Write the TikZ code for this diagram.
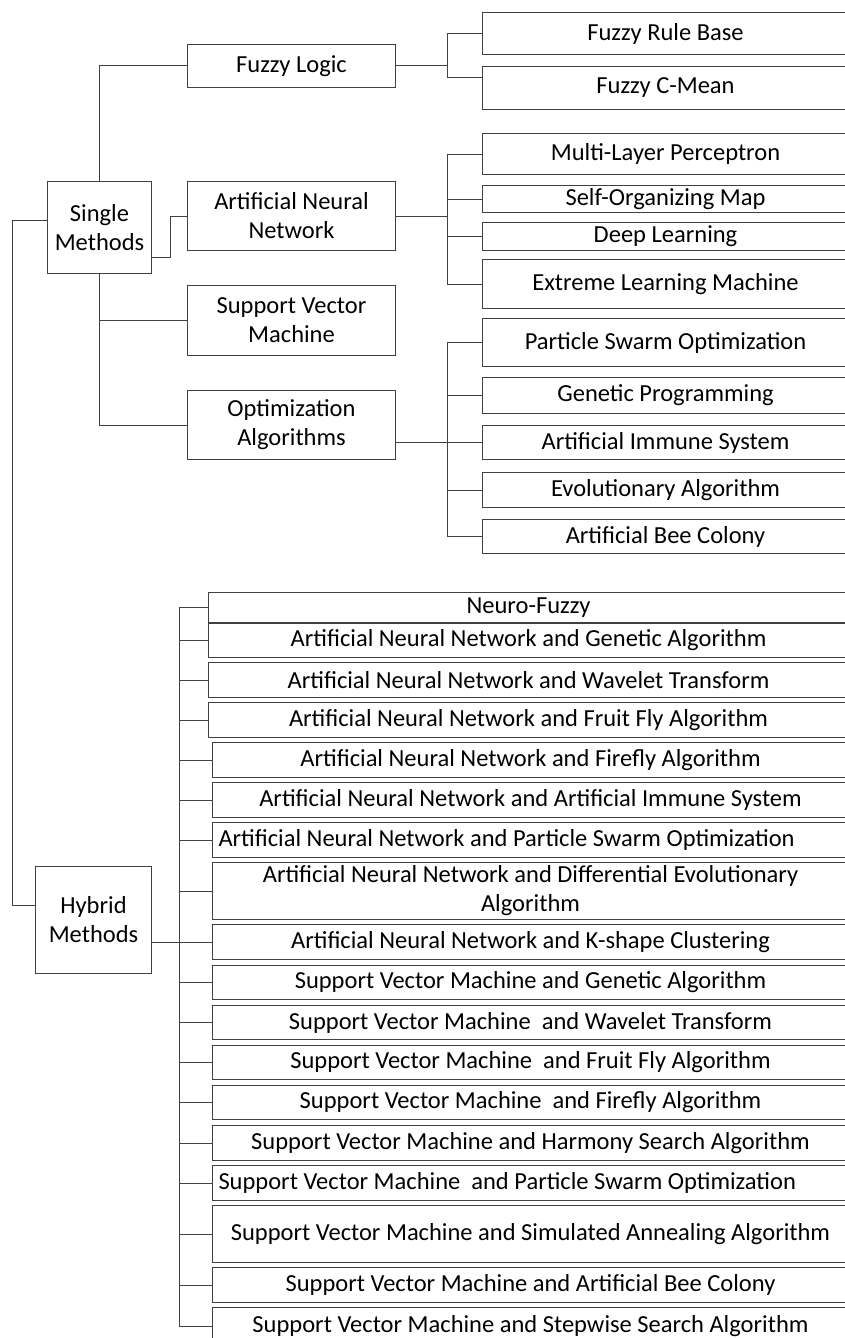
\documentclass[tikz,border=0pt]{standalone}
\usepackage{fontspec}
\setmainfont{Carlito}

\begin{document}
\begin{tikzpicture}[x=1pt, y=-1pt,
font=\fontsize{24.5}{29}\selectfont,
box/.style={draw=black!75, line width=1pt, anchor=north west, align=center,
  inner xsep=4pt, inner ysep=1pt, minimum width=208pt},
leaf/.style={box, minimum width=366pt},
hleaf/.style={box, minimum width=636pt},
link/.style={black!75, line width=1pt}]
    \useasboundingbox (0,0) rectangle (845,1338);
    \clip (0,0) rectangle (845,1338);

    % Roots
    \node[box, minimum width=104pt, minimum height=92pt] (sm) at (47,181) {Single\\Methods};
    \node[box, minimum width=116pt, minimum height=107pt] (hm) at (35,866) {Hybrid\\Methods};

    % Single methods
    \node[box, minimum height=43pt] (fl) at (187,44) {Fuzzy Logic};
    \node[box, minimum height=69pt] (ann) at (187,181) {Artificial Neural\\Network};
    \node[box, minimum height=70pt] (svm) at (187,285) {Support Vector\\Machine};
    \node[box, minimum height=69pt] (opt) at (187,390) {Optimization\\Algorithms};

    \node[leaf, minimum height=42pt] (frb) at (482,12) {Fuzzy Rule Base};
    \node[leaf, minimum height=43pt] (fcm) at (482,66) {Fuzzy C-Mean};
    \node[leaf, minimum height=41pt] (mlp) at (482,133) {Multi-Layer Perceptron};
    \node[leaf, minimum height=27pt] (som) at (482,185) {Self-Organizing Map};
    \node[leaf, minimum height=28pt] (dl) at (482,222) {Deep Learning};
    \node[leaf, minimum height=49pt] (elm) at (482,259) {Extreme Learning Machine};
    \node[leaf, minimum height=48pt] (pso) at (482,318) {Particle Swarm Optimization};
    \node[leaf, minimum height=36pt] (gp) at (482,377) {Genetic Programming};
    \node[leaf, minimum height=34pt] (ais) at (482,425) {Artificial Immune System};
    \node[leaf, minimum height=35pt] (ea) at (482,472) {Evolutionary Algorithm};
    \node[leaf, minimum height=34pt] (abc) at (482,519) {Artificial Bee Colony};

    % Hybrid methods
    \node[hleaf, minimum width=640pt, minimum height=30pt] (nf) at (208,592) {Neuro-Fuzzy};
    \node[hleaf, minimum width=640pt, minimum height=34pt] (annga) at (208,623) {Artificial Neural Network and Genetic Algorithm};
    \node[hleaf, minimum width=640pt, minimum height=35pt] (annwt) at (208,662) {Artificial Neural Network and Wavelet Transform};
    \node[hleaf, minimum width=640pt, minimum height=35pt] (annffa) at (208,702) {Artificial Neural Network and Fruit Fly Algorithm};
    \node[hleaf, minimum height=35pt] (annfa) at (212,742) {Artificial Neural Network and Firefly Algorithm};
    \node[hleaf, minimum height=35pt] (annais) at (212,782) {Artificial Neural Network and Artificial Immune System};
    \node[hleaf, minimum height=35pt, align=flush left, inner xsep=6pt, text width=624pt] (annpso) at (212,822) {Artificial Neural Network and Particle Swarm Optimization};
    \node[hleaf, minimum height=57pt] (annde) at (212,862) {Artificial Neural Network and Differential Evolutionary\\Algorithm};
    \node[hleaf, minimum height=35pt] (annksc) at (212,924) {Artificial Neural Network and K-shape Clustering};
    \node[hleaf, minimum height=34pt] (svmga) at (212,965) {Support Vector Machine and Genetic Algorithm};
    \node[hleaf, minimum height=34pt] (svmwt) at (212,1005) {Support Vector Machine\ \ and Wavelet Transform};
    \node[hleaf, minimum height=34pt] (svmffa) at (212,1045) {Support Vector Machine\ \ and Fruit Fly Algorithm};
    \node[hleaf, minimum height=34pt] (svmfa) at (212,1085) {Support Vector Machine\ \ and Firefly Algorithm};
    \node[hleaf, minimum height=35pt] (svmhsa) at (212,1125) {Support Vector Machine and Harmony Search Algorithm};
    \node[hleaf, minimum height=35pt, align=flush left, inner xsep=6pt, text width=624pt] (svmpso) at (212,1165) {Support Vector Machine\ \ and Particle Swarm Optimization};
    \node[hleaf, minimum height=57pt] (svmsaa) at (212,1205) {Support Vector Machine and Simulated Annealing Algorithm};
    \node[hleaf, minimum height=35pt] (svmabc) at (212,1267) {Support Vector Machine and Artificial Bee Colony};
    \node[hleaf, minimum height=38pt] (svmssa) at (212,1307) {Support Vector Machine and Stepwise Search Algorithm};

    % Links from the roots
    \draw[link] (sm.north) |- (fl.west);
    \draw[link] ([yshift=17pt]sm.south east) -- ++(18,0) |- (ann.west);
    \draw[link] (sm.south) |- (svm.west);
    \draw[link] (sm.south) |- (opt.west);
    \draw[link] ([yshift=7pt]sm.west) -- ++(-35,0) |- ([yshift=15pt]hm.west);

    % Brackets of the single methods
    \coordinate (fb) at (447,0);
    \draw[link] (fl.east) -- (fb |- fl.east);
    \draw[link] (fb |- frb.west) -- (frb.west);
    \draw[link] (fb |- frb.west) |- ([yshift=10.5pt]fcm.west);
    \draw[link] (ann.east) -- (fb |- ann.east);
    \draw[link] (fb |- mlp.west) -- (fb |- elm.west);
    \draw[link] (fb |- pso.west) -- (fb |- abc.west);
    \draw[link] (opt.east |- ais.west) -- (fb |- ais.west);
    \foreach \n in {mlp,som,dl,elm,pso,gp,ais,ea,abc}
        \draw[link] (fb |- \n.west) -- (\n.west);

    % Bracket of the hybrid methods
    \coordinate (hb) at (179,0);
    \draw[link] (hb |- nf.west) -- (hb |- svmssa.west);
    \draw[link] (hm.east |- annksc.west) -- (hb |- annksc.west);
    \foreach \n in {nf,annga,annwt,annffa,annfa,annais,annpso,annde,annksc,
                    svmga,svmwt,svmffa,svmfa,svmhsa,svmpso,svmsaa,svmabc,svmssa}
        \draw[link] (hb |- \n.west) -- (\n.west);

\end{tikzpicture}
\end{document}
